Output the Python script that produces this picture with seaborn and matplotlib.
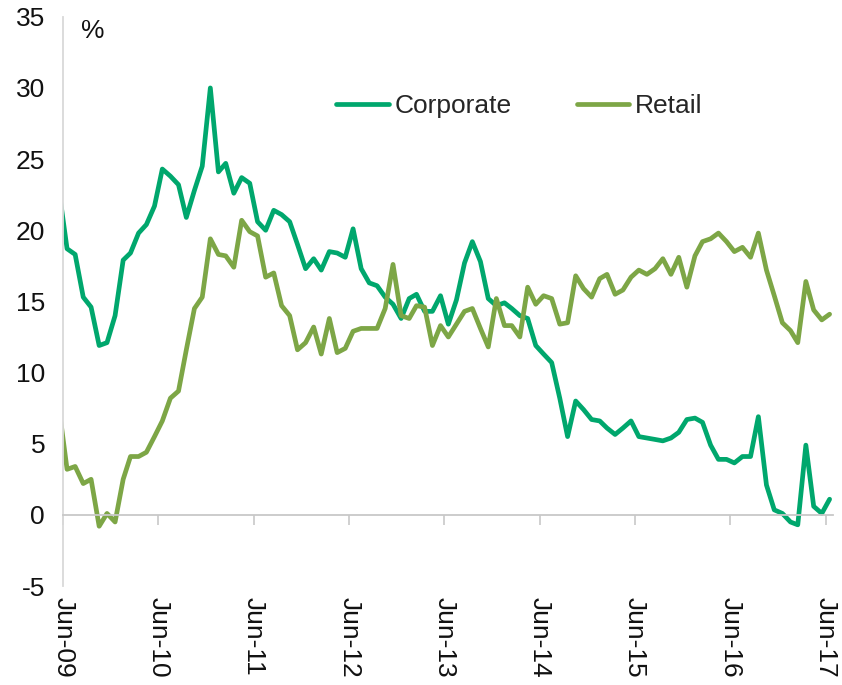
import numpy as np
import pandas as pd
import matplotlib
matplotlib.use("Agg")
import matplotlib.pyplot as plt
import matplotlib.dates as mdates
import seaborn as sns

# Monthly growth rates (%), month-end observations from May-2009 to Jun-2017
months = pd.date_range("2009-05-31", "2017-06-30", freq="ME")

corporate = [
    22.7, 18.7, 18.3, 15.3, 14.6, 11.9, 12.1, 14.0, 17.9, 18.4, 19.8, 20.4,
    21.7, 24.3, 23.8, 23.2, 20.9, 22.8, 24.5, 30.0, 24.1, 24.7, 22.6, 23.7,
    23.3, 20.6, 20.0, 21.4, 21.1, 20.6, 19.0, 17.3, 18.0, 17.2, 18.5, 18.4,
    18.1, 20.1, 17.3, 16.3, 16.1, 15.3, 14.8, 13.8, 15.2, 15.5, 14.3, 14.3,
    15.4, 13.4, 15.1, 17.7, 19.2, 17.8, 15.2, 14.7, 14.9, 14.5, 14.0, 13.8,
    11.9, 11.3, 10.7, 8.2, 5.5, 8.0, 7.4, 6.7, 6.6, 6.1, 5.65, 6.1,
    6.6, 5.5, 5.4, 5.3, 5.2, 5.4, 5.8, 6.7, 6.8, 6.5, 4.9, 3.9,
    3.9, 3.65, 4.1, 4.1, 6.9, 2.1, 0.35, 0.1, -0.5, -0.7, 4.9, 0.6,
    0.1, 1.1,
]

retail = [
    7.4, 3.2, 3.4, 2.2, 2.5, -0.8, 0.1, -0.5, 2.5, 4.1, 4.1, 4.4,
    5.5, 6.6, 8.2, 8.7, 11.6, 14.5, 15.3, 19.4, 18.3, 18.2, 17.4, 20.7,
    19.9, 19.6, 16.7, 17.0, 14.7, 14.0, 11.6, 12.1, 13.2, 11.3, 13.8, 11.4,
    11.7, 12.9, 13.1, 13.1, 13.1, 14.5, 17.6, 14.0, 13.8, 14.7, 14.6, 11.9,
    13.3, 12.5, 13.4, 14.3, 14.5, 13.1, 11.8, 15.2, 13.3, 13.3, 12.5, 16.0,
    14.8, 15.4, 15.2, 13.4, 13.5, 16.8, 15.9, 15.3, 16.6, 16.9, 15.5, 15.8,
    16.7, 17.2, 16.9, 17.3, 18.0, 16.9, 18.1, 16.0, 18.2, 19.2, 19.4, 19.8,
    19.2, 18.5, 18.8, 18.1, 19.8, 17.2, 15.4, 13.5, 12.95, 12.1, 16.4, 14.4,
    13.7, 14.1,
]

series_names = ["Corporate", "Retail"]
colors = ["#00A76D", "#7DA646"]
y_ticks = list(range(-5, 36, 5))

df = pd.DataFrame({
    "date": np.concatenate([months, months]),
    "value": corporate + retail,
    "series": ["Corporate"] * len(corporate) + ["Retail"] * len(retail),
})

sns.set_style("white")
plt.rcParams["font.family"] = ["Liberation Sans", "DejaVu Sans"]
plt.rcParams["axes.unicode_minus"] = False

FS = 19

fig = plt.figure(figsize=(8.42, 6.85), dpi=100)
ax = fig.add_axes([0.075, 0.1445, 0.914, 0.831])

sns.lineplot(data=df, x="date", y="value", hue="series",
             hue_order=series_names, palette=colors, linewidth=3.4,
             ax=ax, legend=True)

ax.set_ylim(-5, 35)
ax.set_yticks(y_ticks)
ax.set_xlim(pd.Timestamp("2009-06-15"), pd.Timestamp("2017-07-12"))
ax.set_xlabel("")
ax.set_ylabel("")

# Axis styling: light left spine, category axis drawn along zero
for side in ["top", "right"]:
    ax.spines[side].set_visible(False)
ax.spines["left"].set_color("#D9D9D9")
ax.spines["left"].set_linewidth(1.3)
ax.spines["bottom"].set_position(("data", 0))
ax.spines["bottom"].set_color("#C8C8C8")
ax.spines["bottom"].set_linewidth(1.3)

ax.xaxis.set_major_locator(mdates.YearLocator(base=1, month=6, day=15))
ax.xaxis.set_major_formatter(mdates.DateFormatter("%b-%y"))
ax.tick_params(axis="x", direction="out", length=7, width=1.2,
               color="#C8C8C8", pad=52, labelsize=FS, labelrotation=270,
               labelcolor="#111111", bottom=True)
ax.tick_params(axis="y", length=0, pad=13, labelsize=FS, labelcolor="#111111")

ax.text(0.038, 0.975, "%", transform=ax.transAxes, ha="center", va="center",
        fontsize=FS, color="#111111")

leg = ax.legend(loc="center left", bbox_to_anchor=(0.355, 0.843), ncol=2,
                frameon=False, fontsize=FS, handlelength=2.0,
                columnspacing=2.45, handletextpad=0.22, borderaxespad=0,
                borderpad=0)
for line in leg.get_lines():
    line.set_linewidth(3.4)

fig.savefig("out.png", dpi=100)
